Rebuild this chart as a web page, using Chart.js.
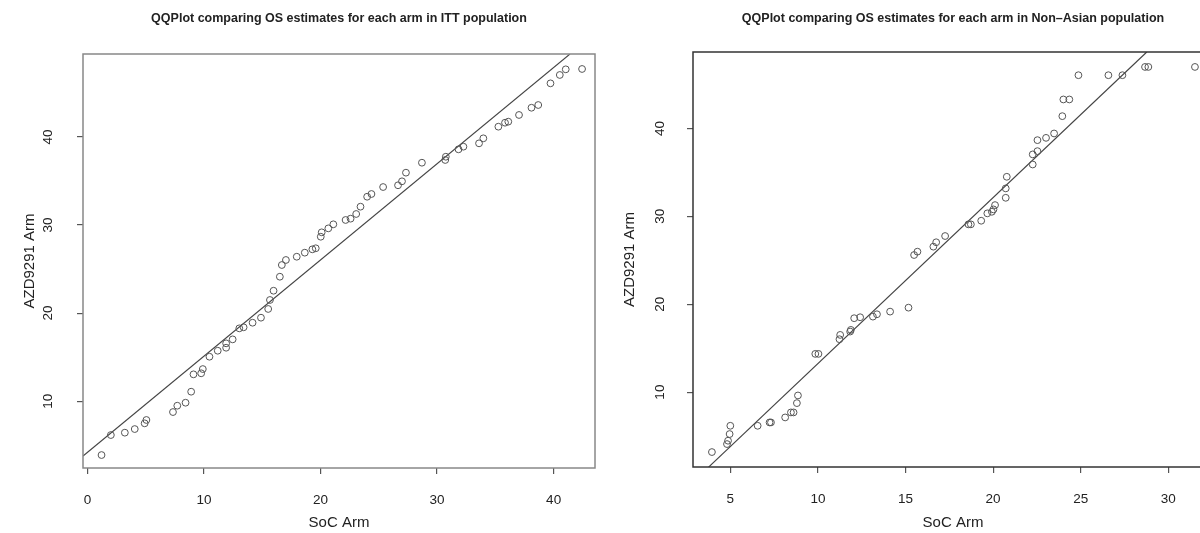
<!DOCTYPE html>
<html>
<head>
<meta charset="utf-8">
<script src="https://cdn.jsdelivr.net/npm/chart.js@4/dist/chart.umd.min.js"></script>
<style>
  html, body { margin: 0; padding: 0; background: #fff; overflow: hidden; }
  #wrap { position: relative; width: 1200px; height: 533px; overflow: hidden; }
  .panel { position: absolute; top: 0; }
</style>
</head>
<body>
<div id="wrap">
  <div class="panel" style="left:0px"><canvas id="leftChart" width="600" height="533"></canvas></div>
  <div class="panel" style="left:600px"><canvas id="rightChart" width="620" height="533"></canvas></div>
</div>
<script>
// ITT population (left panel)
const leftSocArm = [1.21, 2.01, 3.21, 4.06, 4.91, 5.06, 7.34, 7.71, 8.42, 8.90, 9.10, 9.76, 9.90, 10.47, 11.18, 11.90, 11.90, 12.46, 13.03, 13.40, 14.17, 14.89, 15.51, 15.66, 15.97, 16.51, 16.68, 17.03, 17.96, 18.65, 19.30, 19.59, 20.02, 20.10, 20.67, 21.10, 22.15, 22.58, 23.06, 23.43, 24.00, 24.37, 25.37, 26.65, 26.99, 27.33, 28.70, 30.70, 30.75, 31.84, 32.26, 33.60, 33.97, 35.26, 35.83, 36.11, 37.03, 38.10, 38.68, 39.73, 40.53, 41.04, 42.44];
const leftAzdArm = [3.89, 6.16, 6.43, 6.84, 7.49, 7.87, 8.77, 9.49, 9.83, 11.08, 13.05, 13.17, 13.65, 15.05, 15.73, 16.07, 16.57, 17.02, 18.27, 18.39, 18.91, 19.48, 20.47, 21.49, 22.54, 24.13, 25.46, 26.03, 26.40, 26.86, 27.24, 27.36, 28.67, 29.17, 29.62, 30.08, 30.57, 30.72, 31.25, 32.08, 33.21, 33.52, 34.31, 34.51, 34.96, 35.94, 37.07, 37.38, 37.75, 38.59, 38.89, 39.27, 39.84, 41.16, 41.61, 41.73, 42.49, 43.31, 43.62, 46.08, 47.03, 47.67, 47.71];
const leftLineX = [-0.38, 41.4];
const leftLineY = [3.78, 49.4];
const leftXTicks = [0, 10, 20, 30, 40];
const leftYTicks = [10, 20, 30, 40];

// Non-Asian population (right panel)
const rightSocArm = [3.95, 4.81, 4.87, 4.96, 5.00, 6.56, 7.24, 7.32, 8.13, 8.46, 8.61, 8.80, 8.86, 9.85, 10.03, 11.23, 11.27, 11.84, 11.88, 12.07, 12.41, 13.14, 13.37, 14.12, 15.17, 15.49, 15.68, 16.59, 16.75, 17.26, 18.59, 18.73, 19.32, 19.67, 19.93, 20.02, 20.11, 20.72, 20.72, 20.78, 22.26, 22.26, 22.53, 22.53, 23.02, 23.48, 23.95, 24.01, 24.35, 24.87, 26.58, 27.38, 28.67, 28.86, 31.52];
const rightAzdArm = [3.18, 4.09, 4.47, 5.23, 6.17, 6.17, 6.55, 6.55, 7.12, 7.69, 7.69, 8.75, 9.62, 14.35, 14.35, 16.02, 16.51, 16.89, 17.08, 18.41, 18.52, 18.59, 18.86, 19.16, 19.61, 25.60, 25.98, 26.55, 27.05, 27.76, 29.09, 29.09, 29.50, 30.34, 30.52, 30.79, 31.28, 32.11, 33.18, 34.50, 35.90, 37.05, 37.42, 38.67, 38.93, 39.43, 41.40, 43.30, 43.30, 46.06, 46.06, 46.06, 47.00, 47.00, 47.00];
const rightLineX = [3.76, 28.77];
const rightLineY = [1.47, 48.7];
const rightXTicks = [5, 10, 15, 20, 25, 30];
const rightYTicks = [10, 20, 30, 40];

const FONT = "'Liberation Sans', Arial, sans-serif";
const TEXT = '#222';

// draws the R-style frame around the plot region
const boxPlugin = {
  id: 'plotBox',
  afterDatasetsDraw(chart, args, opts) {
    const { ctx, chartArea } = chart;
    ctx.save();
    ctx.strokeStyle = opts.color;
    ctx.lineWidth = opts.width;
    ctx.strokeRect(chartArea.left, chartArea.top, chartArea.right - chartArea.left, chartArea.bottom - chartArea.top);
    ctx.restore();
  }
};

function toPoints(xs, ys) {
  return xs.map((x, i) => ({ x: x, y: ys[i] }));
}

function makeChart(el, cfg) {
  return new Chart(el, {
    type: 'scatter',
    data: {
      datasets: [
        {
          data: toPoints(cfg.xs, cfg.ys),
          pointStyle: 'circle',
          pointRadius: 3.4,
          pointBorderWidth: 1,
          borderColor: '#555',
          backgroundColor: 'rgba(0,0,0,0)',
          showLine: false
        },
        {
          data: toPoints(cfg.lineX, cfg.lineY),
          showLine: true,
          pointRadius: 0,
          borderColor: '#444',
          borderWidth: 1.2,
          fill: false
        }
      ]
    },
    options: {
      responsive: false,
      animation: false,
      layout: { padding: { left: 0, right: cfg.padRight, top: 0, bottom: 0 } },
      plugins: {
        legend: { display: false },
        tooltip: { enabled: false },
        title: {
          display: true,
          text: cfg.title,
          fullSize: false,
          color: TEXT,
          font: { family: FONT, size: 12.5, weight: 'bold' },
          padding: { top: 11, bottom: cfg.titleGap }
        },
        plotBox: { color: cfg.boxColor, width: 1.5 }
      },
      scales: {
        x: {
          type: 'linear',
          min: cfg.xMin,
          max: cfg.xMax,
          afterBuildTicks: (axis) => { axis.ticks = cfg.xTicks.map(v => ({ value: v })); },
          afterFit: (scale) => { scale.height = cfg.xAxisHeight; },
          border: { display: false },
          grid: { drawOnChartArea: false, drawTicks: true, tickLength: 6, color: '#555', lineWidth: 1.2 },
          ticks: { color: TEXT, font: { family: FONT, size: 13.5 }, padding: 18, maxRotation: 0 },
          title: { display: true, text: 'SoC Arm', color: TEXT, font: { family: FONT, size: 15 }, padding: { top: 0, bottom: 1 } }
        },
        y: {
          type: 'linear',
          min: cfg.yMin,
          max: cfg.yMax,
          afterBuildTicks: (axis) => { axis.ticks = cfg.yTicks.map(v => ({ value: v })); },
          afterFit: (scale) => { scale.width = cfg.yAxisWidth; },
          border: { display: false },
          grid: { drawOnChartArea: false, drawTicks: true, tickLength: 6, color: '#555', lineWidth: 1.2 },
          ticks: { color: TEXT, font: { family: FONT, size: 13.5 }, padding: cfg.yTickPad, minRotation: 90, maxRotation: 90, crossAlign: 'center' },
          title: { display: true, text: 'AZD9291 Arm', color: TEXT, font: { family: FONT, size: 15 }, padding: { top: 21, bottom: 0 } }
        }
      }
    },
    plugins: [boxPlugin]
  });
}

makeChart(document.getElementById('leftChart'), {
  title: 'QQPlot comparing OS estimates for each arm in ITT population',
  xs: leftSocArm, ys: leftAzdArm,
  lineX: leftLineX, lineY: leftLineY,
  xTicks: leftXTicks, yTicks: leftYTicks,
  xMin: -0.38, xMax: 43.55, yMin: 2.42, yMax: 49.41,
  padRight: 3, titleGap: 28, xAxisHeight: 65, yAxisWidth: 83, yTickPad: 21,
  boxColor: '#888'
});

makeChart(document.getElementById('rightChart'), {
  title: 'QQPlot comparing OS estimates for each arm in Non\u2013Asian population',
  xs: rightSocArm, ys: rightAzdArm,
  lineX: rightLineX, lineY: rightLineY,
  xTicks: rightXTicks, yTicks: rightYTicks,
  xMin: 2.87, xMax: 32.55, yMin: 1.48, yMax: 48.7,
  padRight: 7, titleGap: 26, xAxisHeight: 66, yAxisWidth: 93, yTickPad: 19,
  boxColor: '#333'
});
</script>
</body>
</html>
